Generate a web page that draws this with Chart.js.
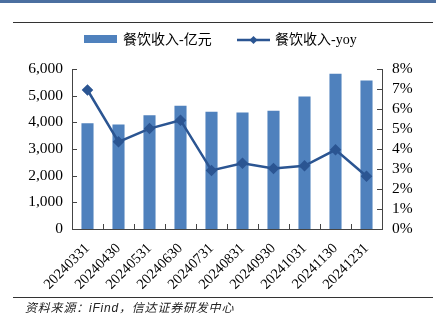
<!DOCTYPE html>
<html>
<head>
<meta charset="utf-8">
<script src="https://cdn.jsdelivr.net/npm/chart.js@4"></script>
<style>
  body { margin: 0; background: #fff; }
  #wrap { position: relative; width: 436px; height: 329px; overflow: hidden; }
  #topband { position: absolute; left: 0; top: 0; width: 436px; height: 3px; background: #4b6fa0; }
  .rule { position: absolute; left: 13px; width: 420px; height: 1px; background: #333; }
  #source { position: absolute; left: 25px; top: 298px; font: italic 12px 'Liberation Sans', 'Noto Sans CJK SC'; letter-spacing: 0.8px; color: #222; }
</style>
</head>
<body>
<div id="wrap">
  <canvas id="restaurant" width="436" height="329"></canvas>
  <div id="topband"></div>
  <div class="rule" style="top:22px"></div>
  <div class="rule" style="top:297px"></div>
  <div id="source">资料来源：iFind，信达证券研发中心</div>
</div>
<script>
var months = ['20240331', '20240430', '20240531', '20240630', '20240731', '20240831', '20240930', '20241031', '20241130', '20241231']
var revenue = [3970, 3920, 4270, 4620, 4400, 4370, 4430, 4970, 5820, 5570]
var yoy = [6.95, 4.36, 5.02, 5.44, 2.93, 3.29, 3.03, 3.16, 3.96, 2.64]

var barColor = '#4f81bd'
var lineColor = '#2b5592'
var axisColor = '#444'

// legend + inward tick marks, drawn by hand to match the original
var decor = {
    id: 'decor',
    afterDraw(chart) {
        var ctx = chart.ctx
        var a = chart.chartArea
        var x = chart.scales.x, y = chart.scales.y, y1 = chart.scales.y1
        ctx.save()
        ctx.strokeStyle = axisColor
        ctx.lineWidth = 1
        ctx.beginPath()
        y.ticks.forEach(function (t) {
            var py = Math.round(y.getPixelForValue(t.value)) + 0.5
            ctx.moveTo(a.left, py); ctx.lineTo(a.left + 5, py)
        })
        y1.ticks.forEach(function (t) {
            var py = Math.round(y1.getPixelForValue(t.value)) + 0.5
            ctx.moveTo(a.right, py); ctx.lineTo(a.right - 5, py)
        })
        for (var i = 1; i < months.length; i++) {
            var px = Math.round((x.getPixelForValue(i - 1) + x.getPixelForValue(i)) / 2) + 0.5
            ctx.moveTo(px, a.bottom); ctx.lineTo(px, a.bottom - 5)
        }
        ctx.stroke()

        // legend
        var ds = chart.data.datasets
        ctx.font = "14px 'Liberation Serif', 'Noto Sans CJK SC'"
        ctx.textBaseline = 'middle'
        ctx.fillStyle = ds[0].backgroundColor
        ctx.fillRect(84, 35, 33, 8)
        ctx.fillStyle = '#000'
        ctx.fillText(ds[0].label, 123, 40)
        ctx.strokeStyle = ds[1].borderColor
        ctx.lineWidth = 2.5
        ctx.beginPath(); ctx.moveTo(237, 40); ctx.lineTo(270, 40); ctx.stroke()
        ctx.fillStyle = ds[1].borderColor
        ctx.beginPath()
        ctx.moveTo(253.5, 36); ctx.lineTo(257.5, 40); ctx.lineTo(253.5, 44); ctx.lineTo(249.5, 40)
        ctx.closePath(); ctx.fill()
        ctx.fillStyle = '#000'
        ctx.fillText(ds[1].label, 275, 40)
        ctx.restore()
    }
}

new Chart('restaurant', {
    type: 'bar',
    data: {
        labels: months,
        datasets: [{
            label: '餐饮收入-亿元',
            data: revenue,
            backgroundColor: barColor,
            categoryPercentage: 1,
            barPercentage: 0.39,
            yAxisID: 'y',
            order: 2
        }, {
            type: 'line',
            label: '餐饮收入-yoy',
            data: yoy,
            borderColor: lineColor,
            backgroundColor: lineColor,
            borderWidth: 2.5,
            pointStyle: 'rectRot',
            pointRadius: 4,
            pointHoverRadius: 4,
            tension: 0,
            yAxisID: 'y1',
            order: 1
        }]
    },
    options: {
        responsive: false,
        animation: false,
        layout: { padding: { top: 69, right: 0, left: 0, bottom: 0 } },
        plugins: {
            legend: { display: false },
            tooltip: { enabled: false }
        },
        scales: {
            x: {
                grid: { display: false, drawTicks: false },
                border: { display: true, color: axisColor },
                ticks: {
                    minRotation: 45,
                    maxRotation: 45,
                    autoSkip: false,
                    padding: 11,
                    color: '#000',
                    font: { family: 'Liberation Serif', size: 14.5 }
                },
                afterFit(s) { s.height = 100 }
            },
            y: {
                position: 'left',
                min: 0,
                max: 6000,
                grid: { display: false, drawTicks: false },
                border: { display: true, color: axisColor },
                ticks: {
                    stepSize: 1000,
                    autoSkip: false,
                    padding: 9,
                    color: '#000',
                    font: { family: 'Liberation Serif', size: 15.5 },
                    callback: function (v) { return v.toLocaleString('en-US') }
                },
                afterFit(s) { s.width = 72 }
            },
            y1: {
                position: 'right',
                min: 0,
                max: 8,
                grid: { display: false, drawTicks: false },
                border: { display: true, color: axisColor },
                ticks: {
                    stepSize: 1,
                    autoSkip: false,
                    padding: 10,
                    color: '#000',
                    font: { family: 'Liberation Serif', size: 15.5 },
                    callback: function (v) { return v + '%' }
                },
                afterFit(s) { s.width = 54 }
            }
        }
    },
    plugins: [decor]
})
</script>
</body>
</html>
